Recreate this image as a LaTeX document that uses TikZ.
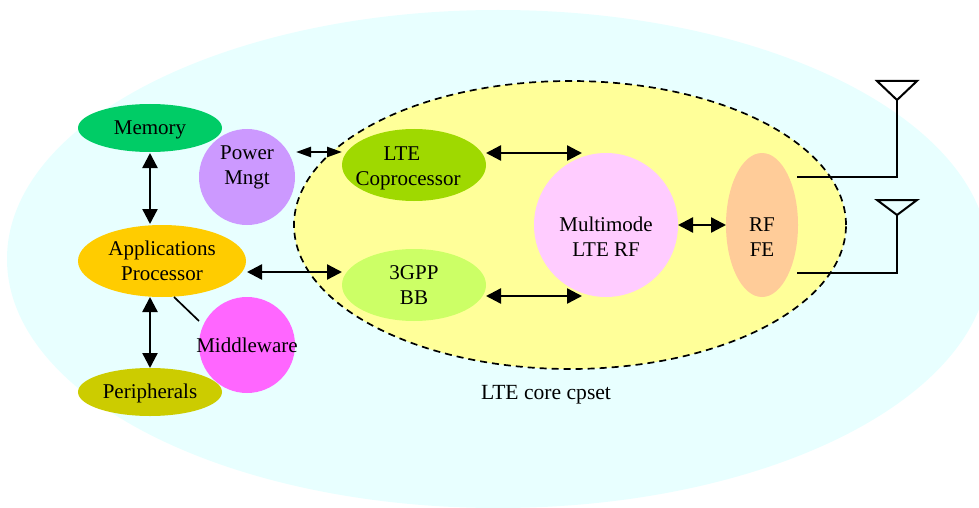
\documentclass[tikz,border=0pt]{standalone}
\usepackage{fontspec}
\setmainfont{Liberation Serif}
\usetikzlibrary{shapes.geometric,arrows.meta}
\definecolor{outerc}{HTML}{E8FFFF}
\definecolor{corec}{HTML}{FFFF99}
\definecolor{memc}{HTML}{00CC66}
\definecolor{powc}{HTML}{CC99FF}
\definecolor{appc}{HTML}{FFCC00}
\definecolor{perc}{HTML}{CCCC00}
\definecolor{midc}{HTML}{FF66FF}
\definecolor{ltec}{HTML}{9FD900}
\definecolor{bbc}{HTML}{CCFF66}
\definecolor{mmc}{HTML}{FFCCFF}
\definecolor{rfc}{HTML}{FFCC99}
\tikzset{
  x=1pt,y=-1pt,
  blob/.style={ellipse,draw=none,inner sep=-15pt,outer sep=0pt,align=center,
    font=\fontsize{21}{25}\selectfont,minimum width=#1},
  round blob/.style={circle,draw=none,inner sep=-15pt,outer sep=0pt,align=center,
    font=\fontsize{21}{25}\selectfont,minimum size=#1},
  both/.style={line width=2.4pt,{Triangle[length=15pt,width=15pt]}-{Triangle[length=15pt,width=15pt]}},
  both narrow/.style={line width=2.4pt,{Triangle[length=15pt,width=10pt]}-{Triangle[length=15pt,width=10pt]}},
  wire/.style={line width=2pt,line join=miter},
  thin wire/.style={line width=1.7pt},
}
\begin{document}
\begin{tikzpicture}
\useasboundingbox (0,0) rectangle (979,508);
\fill[white] (0,0) rectangle (979,508);
\begin{scope}
\clip (0,0) rectangle (979,508);
\node[ellipse,fill=outerc,inner sep=0pt,minimum width=982pt,minimum height=498pt] (outer) at (498,259) {};
\end{scope}
\node[ellipse,fill=corec,draw=black,line width=1.7pt,dash pattern=on 7pt off 5pt,inner sep=0pt,minimum width=552pt,minimum height=288pt] (core) at (570,225) {};
\node[blob=144pt,minimum height=48pt,fill=memc] (mem) at (150,128) {\raisebox{-7pt}[0pt][0pt]{Memory}};
\node[round blob=96pt,fill=powc] (pow) at (247,177) {Power\\Mngt\\[-8pt]\strut};
\node[blob=168pt,minimum height=72pt,fill=appc] (app) at (162,261) {Applications\\Processor};
\node[blob=144pt,minimum height=48pt,fill=perc] (per) at (150,392) {\raisebox{-6pt}[0pt][0pt]{Peripherals}};
\node[round blob=96pt,fill=midc] (mid) at (247,345) {Middleware};
\node[blob=144pt,minimum height=72pt,fill=ltec] (lte) at (414,165) {\strut\\[-22pt]\makebox[0pt]{\hspace*{-24pt}LTE}\\\makebox[0pt]{\hspace*{-12pt}Coprocessor}};
\node[blob=144pt,minimum height=72pt,fill=bbc] (bb) at (414,285) {3GPP\\BB};
\node[round blob=144pt,fill=mmc] (mm) at (606,225) {\strut\\[-4pt]Multimode\\LTE RF};
\node[blob=72pt,minimum height=144pt,fill=rfc] (rf) at (762,225) {\strut\\[-4pt]RF\\FE};
\node[font=\fontsize{21.6}{25}\selectfont] (corelabel) at (546,395) {LTE core cpset};
\coordinate (ant1) at (897,100);
\coordinate (ant2) at (897,215);
\coordinate (ant1l) at (877,81);
\coordinate (ant1r) at (917,81);
\coordinate (ant2l) at (877,200);
\coordinate (ant2r) at (917,200);
\coordinate (rfa) at ([xshift=35pt,yshift=48pt]rf.center);
\coordinate (rfb) at ([xshift=35pt,yshift=-48pt]rf.center);
\draw[both] ([yshift=-1pt]mem.south) -- ([yshift=1pt]mem.south |- app.north);
\draw[both] (mem.south |- app.south) -- (mem.south |- per.north);
\draw[both narrow] ([yshift=25pt,xshift=1pt]pow.east) -- ([yshift=13pt]lte.west);
\draw[both] ([yshift=-11pt,xshift=1pt]app.east) -- ([yshift=13pt]bb.west);
\draw[both] ([yshift=12pt]lte.east) -- ([xshift=48pt,yshift=72pt]mm.west);
\draw[both] ([yshift=-11pt]bb.east) -- ([xshift=48pt,yshift=-71pt]mm.west);
\draw[both] (mm.east) -- (rf.west);
\draw[thin wire] ([xshift=12pt]app.south) -- ([xshift=-48pt,yshift=24pt]mid.center);
\draw[wire] (rfa) -- (rfa -| ant1) -- (ant1);
\draw[wire] (rfb) -- (rfb -| ant2) -- (ant2);
\draw[wire] (ant1) -- (ant1l) -- (ant1r) -- cycle;
\draw[wire] (ant2) -- (ant2l) -- (ant2r) -- cycle;
\end{tikzpicture}
\end{document}
